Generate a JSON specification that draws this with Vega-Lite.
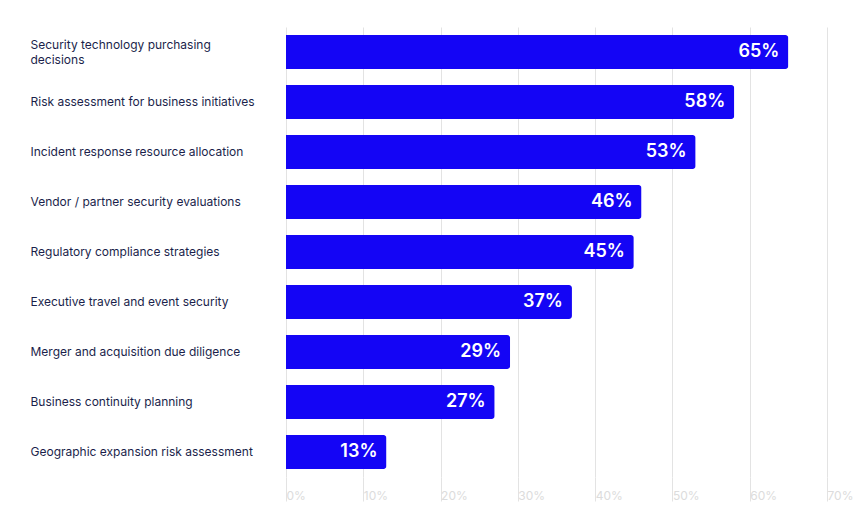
{
  "$schema": "https://vega.github.io/schema/vega-lite/v6.json",
  "autosize": "none",
  "width": 541,
  "height": 450,
  "padding": {"left": 286, "top": 27, "right": 38, "bottom": 47},
  "background": "white",
  "data": {
    "values": [
      {"label": "Security technology purchasing decisions", "pct": 0.65},
      {"label": "Risk assessment for business initiatives", "pct": 0.58},
      {"label": "Incident response resource allocation", "pct": 0.53},
      {"label": "Vendor / partner security evaluations", "pct": 0.46},
      {"label": "Regulatory compliance strategies", "pct": 0.45},
      {"label": "Executive travel and event security", "pct": 0.37},
      {"label": "Merger and acquisition due diligence", "pct": 0.29},
      {"label": "Business continuity planning", "pct": 0.27},
      {"label": "Geographic expansion risk assessment", "pct": 0.13}
    ]
  },
  "encoding": {
    "y": {
      "field": "label",
      "type": "nominal",
      "sort": null,
      "scale": {"paddingInner": 0.32, "paddingOuter": 0.16},
      "axis": {
        "title": null,
        "domain": false,
        "ticks": false,
        "labelAlign": "left",
        "labelPadding": 256,
        "labelFont": "Inter",
        "labelFontSize": 12,
        "labelLineHeight": 15,
        "labelColor": "#1b1f4b",
        "labelLimit": 260,
        "labelBaseline": {
          "condition": {"test": "datum.label == 'Security technology purchasing decisions'", "value": "bottom"},
          "value": "middle"
        },
        "labelExpr": "datum.label == 'Security technology purchasing decisions' ? ['Security technology purchasing', 'decisions'] : datum.label"
      }
    },
    "x": {
      "field": "pct",
      "type": "quantitative",
      "scale": {"domain": [0, 0.7]},
      "axis": {
        "title": null,
        "values": [0, 0.1, 0.2, 0.3, 0.4, 0.5, 0.6, 0.7],
        "format": ".0%",
        "domain": false,
        "tickSize": 24,
        "tickColor": "#e3e3e3",
        "gridColor": "#e3e3e3",
        "labelAlign": "left",
        "labelPadding": -6,
        "labelBaseline": "middle",
        "labelFlush": false,
        "labelFont": "Inter",
        "labelFontSize": 12,
        "labelColor": "#dcdcdc"
      }
    }
  },
  "layer": [
    {
      "mark": {"type": "bar", "color": "#1405f5", "cornerRadiusEnd": 3}
    },
    {
      "mark": {"type": "text", "align": "right", "dx": -9, "color": "white", "font": "Inter", "fontSize": 18, "fontWeight": 600},
      "encoding": {"text": {"field": "pct", "type": "quantitative", "format": ".0%"}}
    }
  ],
  "config": {"view": {"stroke": null}}
}
